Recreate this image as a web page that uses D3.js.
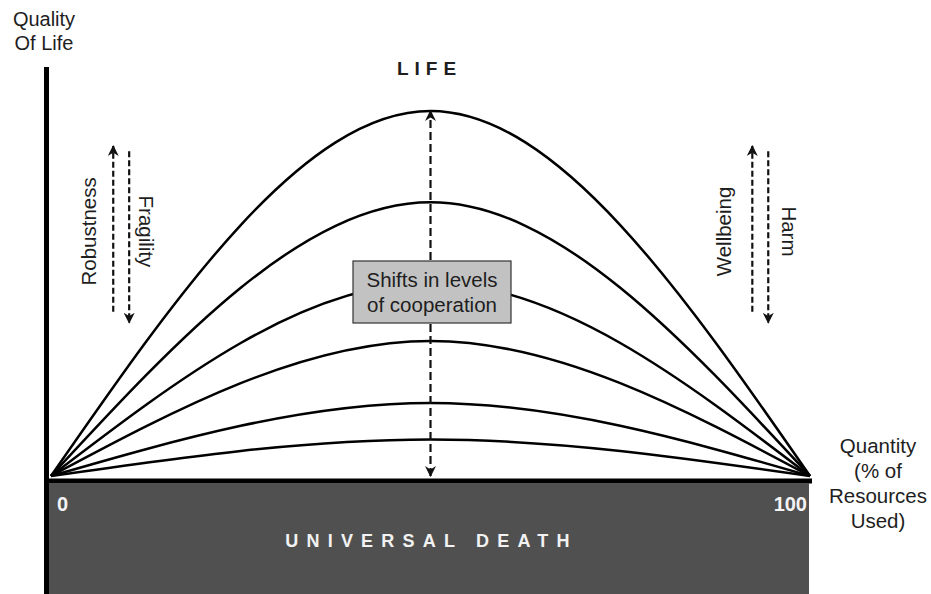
<!DOCTYPE html>
<head>
  <meta charset="utf-8">
  <script src="https://d3js.org/d3.v7.min.js"></script>
  <style>
    body { margin: 0; background: #fff; }
    svg { display: block; }
    text { font-family: "Liberation Sans", Arial, Helvetica, sans-serif; fill: #1e1e1e; }
  </style>
</head>

<body>
  <svg width="931" height="594"></svg>
  <script>
    // data
    var quantityTicks = [0, 100];
    var curvePeaks = [100, 75, 53, 37, 20, 10];   // quality of life at mid quantity
    var curveQuantity = [0, 50, 100];

    // side arrows: [quantity, fromQuality, toQuality]
    var sideArrows = [[8.2, 45, 90.4], [10.3, 89, 42], [92.4, 45, 90.4], [94.5, 89, 42]];
    var sideLabels = [["Robustness", 5.9, -90], ["Fragility", 11.6, 90], ["Wellbeing", 89.6, -90], ["Harm", 96.3, 90]];
    var yLabel = ["Quality", "Of Life"];
    var xLabel = ["Quantity", "(% of", "Resources", "Used)"];
    var boxLabel = ["Shifts in levels", "of cooperation"];

    // options
    var width = 931, height = 594;
    var x = d3.scaleLinear().domain([0, 100]).range([51, 810]);
    var y = d3.scaleLinear().domain([0, 100]).range([476, 111]);

    var svg = d3.select('svg');

    // universal death block
    svg.append('rect')
      .attr('x', 49).attr('y', 483.5)
      .attr('width', 760).attr('height', height - 483.5)
      .attr('fill', '#505050');

    // arrow markers
    var defs = svg.append('defs');
    defs.append('marker')
      .attr('id', 'head')
      .attr('viewBox', '0 0 10 10')
      .attr('refX', 9).attr('refY', 5)
      .attr('markerUnits', 'userSpaceOnUse')
      .attr('markerWidth', 11).attr('markerHeight', 11)
      .attr('orient', 'auto-start-reverse')
      .append('path')
      .attr('d', 'M0,0 L10,5 L0,10 L3,5 Z')
      .attr('fill', '#111');

    // curves
    var line = d3.line()
      .x(function(d){ return x(d[0]); })
      .y(function(d){ return y(d[1]); })
      .curve(d3.curveNatural);

    svg.selectAll('path.curve')
      .data(curvePeaks)
      .enter().append('path')
      .attr('class', 'curve')
      .attr('d', function(p){
        return line(curveQuantity.map(function(q, i){ return [q, i === 1 ? p : 0]; }));
      })
      .attr('fill', 'none')
      .attr('stroke', '#000')
      .attr('stroke-width', 2.5);

    // central double arrow
    svg.append('line')
      .attr('x1', x(50)).attr('x2', x(50))
      .attr('y1', y(0)).attr('y2', y(d3.max(curvePeaks)))
      .attr('stroke', '#111').attr('stroke-width', 2.2)
      .attr('stroke-dasharray', '8,4')
      .attr('marker-start', 'url(#head)')
      .attr('marker-end', 'url(#head)');

    // side arrows
    svg.selectAll('line.side')
      .data(sideArrows)
      .enter().append('line')
      .attr('class', 'side')
      .attr('x1', function(d){ return x(d[0]); })
      .attr('x2', function(d){ return x(d[0]); })
      .attr('y1', function(d){ return y(d[1]); })
      .attr('y2', function(d){ return y(d[2]); })
      .attr('stroke', '#111').attr('stroke-width', 2.2)
      .attr('stroke-dasharray', '6,3')
      .attr('marker-end', 'url(#head)');

    svg.selectAll('text.side')
      .data(sideLabels)
      .enter().append('text')
      .attr('class', 'side')
      .attr('transform', function(d){
        return 'translate(' + [x(d[1]), y(67)] + ') rotate(' + d[2] + ')';
      })
      .attr('text-anchor', 'middle')
      .style('font-size', '20.5px')
      .text(function(d){ return d[0]; });

    // axes
    svg.append('line')
      .attr('x1', 46.5).attr('x2', 46.5)
      .attr('y1', 67).attr('y2', height)
      .attr('stroke', '#000').attr('stroke-width', 5);
    svg.append('line')
      .attr('x1', 44).attr('x2', 812)
      .attr('y1', 481).attr('y2', 481)
      .attr('stroke', '#000').attr('stroke-width', 5);

    // cooperation box
    var bx = x(50) + 1.5;
    svg.append('rect')
      .attr('x', bx - 79).attr('y', 261)
      .attr('width', 158).attr('height', 62)
      .attr('fill', '#c2c2c2')
      .attr('stroke', '#333').attr('stroke-width', 1.2);
    svg.selectAll('text.box')
      .data(boxLabel)
      .enter().append('text')
      .attr('class', 'box')
      .attr('x', bx)
      .attr('y', function(d, i){ return 287 + i * 25; })
      .attr('text-anchor', 'middle')
      .style('font-size', '20.5px')
      .text(function(d){ return d; });

    // titles
    svg.append('text')
      .attr('x', x(50) - 1).attr('y', 75)
      .attr('text-anchor', 'middle')
      .style('font-size', '19px').style('font-weight', 'bold')
      .style('letter-spacing', '6px')
      .text('LIFE');

    svg.append('text')
      .attr('x', x(50) + 1).attr('y', 547)
      .attr('text-anchor', 'middle')
      .style('font-size', '18px').style('font-weight', 'bold')
      .style('letter-spacing', '8.2px')
      .style('fill', '#f2f2f2')
      .text('UNIVERSAL DEATH');

    // tick labels
    svg.selectAll('text.tick')
      .data(quantityTicks)
      .enter().append('text')
      .attr('class', 'tick')
      .attr('x', function(d, i){ return i === 0 ? x(d) + 6 : x(d) - 3; })
      .attr('y', 511)
      .attr('text-anchor', function(d, i){ return i === 0 ? 'start' : 'end'; })
      .style('font-size', '20px').style('font-weight', 'bold')
      .style('fill', '#f4f4f4')
      .text(function(d){ return d; });

    // axis labels
    svg.selectAll('text.ylab')
      .data(yLabel)
      .enter().append('text')
      .attr('class', 'ylab')
      .attr('x', 44)
      .attr('y', function(d, i){ return 26 + i * 24; })
      .attr('text-anchor', 'middle')
      .style('font-size', '20px')
      .text(function(d){ return d; });

    svg.selectAll('text.xlab')
      .data(xLabel)
      .enter().append('text')
      .attr('class', 'xlab')
      .attr('x', 878)
      .attr('y', function(d, i){ return 453 + i * 25; })
      .attr('text-anchor', 'middle')
      .style('font-size', '20.5px')
      .text(function(d){ return d; });
  </script>
</body>
